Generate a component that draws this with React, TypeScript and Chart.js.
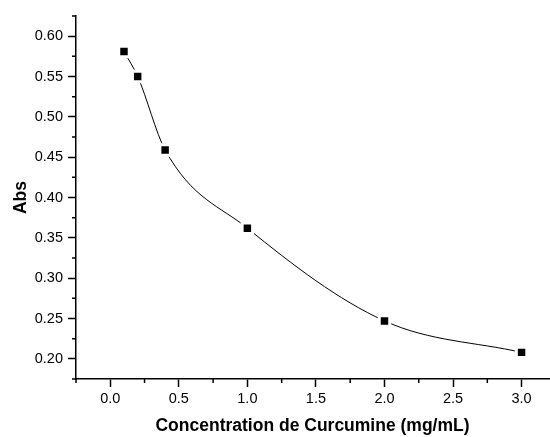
import React, { useEffect, useRef } from "react";
import { Chart, registerables } from "chart.js";

Chart.register(...registerables);

const concentrations = [0.1, 0.2, 0.4, 1.0, 2.0, 3.0];
const absValues = [0.581, 0.55, 0.459, 0.362, 0.247, 0.208];
const xMajorTicks = [0, 0.5, 1.0, 1.5, 2.0, 2.5, 3.0];
const xMinorTicks = [-0.25, 0.25, 0.75, 1.25, 1.75, 2.25, 2.75];
const yMajorTicks = [0.2, 0.25, 0.3, 0.35, 0.4, 0.45, 0.5, 0.55, 0.6];
const yMinorTicks = [0.175, 0.225, 0.275, 0.325, 0.375, 0.425, 0.475, 0.525, 0.575, 0.625];
const xTitle = "Concentration de Curcumine (mg/mL)";
const yTitle = "Abs";

const FONT = "'Liberation Sans', Arial, sans-serif";

const minorTickPlugin = {
  id: "minorTicks",
  afterDraw(chart: any) {
    const ctx = chart.ctx;
    const xs = chart.scales.x;
    const ys = chart.scales.y;
    const area = chart.chartArea;
    ctx.save();
    ctx.strokeStyle = "#000";
    ctx.lineWidth = 1.5;
    ctx.beginPath();
    xMinorTicks.forEach((v) => {
      const px = xs.getPixelForValue(v);
      if (px < area.left - 0.5 || px > area.right + 0.5) return;
      ctx.moveTo(px, area.bottom);
      ctx.lineTo(px, area.bottom + 4);
    });
    yMinorTicks.forEach((v) => {
      const py = ys.getPixelForValue(v);
      if (py < area.top - 0.5 || py > area.bottom + 0.5) return;
      ctx.moveTo(area.left, py);
      ctx.lineTo(area.left - 4, py);
    });
    ctx.stroke();
    ctx.restore();
  },
};

export default function App() {
  const canvasRef = useRef<HTMLCanvasElement | null>(null);

  useEffect(() => {
    if (!canvasRef.current) return;
    const chart = new Chart(canvasRef.current, {
      type: "scatter",
      data: {
        datasets: [
          {
            data: concentrations.map((x, i) => ({ x, y: absValues[i] })),
            showLine: true,
            borderColor: "#000",
            borderWidth: 1,
            cubicInterpolationMode: "monotone",
            pointStyle: "rect",
            pointRadius: 7.4,
            pointHoverRadius: 7.4,
            pointBackgroundColor: "#000",
            pointBorderColor: "#fff",
            pointBorderWidth: 3,
            pointHoverBorderWidth: 3,
          } as any,
        ],
      },
      options: {
        responsive: false,
        animation: false,
        devicePixelRatio: 1,
        layout: { autoPadding: false, padding: { top: 16, right: 1, left: 0, bottom: 0 } },
        plugins: {
          legend: { display: false },
          tooltip: { enabled: false },
        },
        scales: {
          x: {
            type: "linear",
            min: -0.25,
            max: 3.2,
            afterBuildTicks: (scale: any) => {
              scale.ticks = xMajorTicks.map((v) => ({ value: v }));
            },
            afterFit: (scale: any) => {
              scale.height = 58;
              scale.paddingLeft = 0;
              scale.paddingRight = 0;
            },
            ticks: {
              color: "#000",
              font: { family: FONT, size: 14.5 },
              padding: 3,
              maxRotation: 0,
              autoSkip: false,
              callback: (v: any) => Number(v).toFixed(1),
            },
            grid: {
              drawOnChartArea: false,
              tickLength: 8,
              tickColor: "#000",
              tickWidth: 1.5,
            },
            border: { display: true, color: "#000", width: 1.5 },
            title: {
              display: true,
              text: xTitle,
              color: "#000",
              font: { family: FONT, size: 17.5, weight: "bold" },
              padding: { top: 0, bottom: 0 },
            },
          },
          y: {
            type: "linear",
            min: 0.175,
            max: 0.625,
            afterBuildTicks: (scale: any) => {
              scale.ticks = yMajorTicks.map((v) => ({ value: v }));
            },
            afterFit: (scale: any) => {
              scale.width = 76;
              scale.paddingTop = 0;
              scale.paddingBottom = 0;
            },
            ticks: {
              color: "#000",
              font: { family: FONT, size: 14.5 },
              padding: 5,
              autoSkip: false,
              callback: (v: any) => Number(v).toFixed(2),
            },
            grid: {
              drawOnChartArea: false,
              tickLength: 8,
              tickColor: "#000",
              tickWidth: 1.5,
            },
            border: { display: true, color: "#000", width: 1.5 },
            title: {
              display: true,
              text: yTitle,
              color: "#000",
              font: { family: FONT, size: 17.5, weight: "bold" },
              padding: { top: 11, bottom: 0 },
            },
          },
        },
      },
      plugins: [minorTickPlugin],
    });
    return () => chart.destroy();
  }, []);

  return (
    <div style={{ position: "absolute", left: 0, top: 0, width: 550, height: 437, background: "#fff" }}>
      <canvas ref={canvasRef} width={550} height={437} />
    </div>
  );
}
